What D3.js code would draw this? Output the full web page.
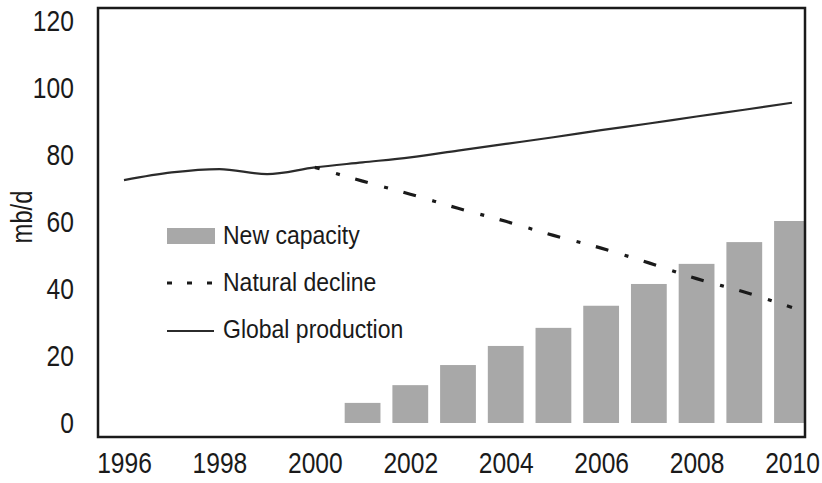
<!DOCTYPE html>
<html>
<head>
<meta charset="utf-8">
<script src="https://cdn.jsdelivr.net/npm/d3@7"></script>
<style>
  html, body { margin: 0; padding: 0; background: #fff; }
  svg { display: block; }
  text { font-family: "Liberation Sans", Arial, sans-serif; fill: #1a1a1a; }
</style>
</head>
<body>
<svg id="chart" width="822" height="483"></svg>
<script>
// ---- data ----
const years = [1996, 1997, 1998, 1999, 2000, 2001, 2002, 2003, 2004, 2005, 2006, 2007, 2008, 2009, 2010];
const globalProduction = [72.5, 74.8, 75.8, 74.3, 76.3, 77.8, 79.3, 81.3, 83.3, 85.3, 87.4, 89.4, 91.5, 93.5, 95.6];
const declineYears = [2000, 2001, 2002, 2003, 2004, 2005, 2006, 2007, 2008, 2009, 2010];
const naturalDecline = [76.3, 72.2, 68.3, 64.1, 60.2, 56.0, 52.2, 47.8, 43.1, 39.1, 34.5];
const capacityYears = [2001, 2002, 2003, 2004, 2005, 2006, 2007, 2008, 2009, 2010];
const newCapacity = [6.0, 11.3, 17.3, 23.0, 28.4, 35.0, 41.5, 47.5, 54.0, 60.3];
const yTicks = [0, 20, 40, 60, 80, 100, 120];
const xTicks = [1996, 1998, 2000, 2002, 2004, 2006, 2008, 2010];
const legendLabels = ["New capacity", "Natural decline", "Global production"];

// ---- layout ----
const W = 822, H = 483;
const frame = { left: 98, right: 805, top: 8, bottom: 437 };
const narrow = "scale(0.82,1)";
const svg = d3.select("#chart");

const x = d3.scaleLinear().domain([1996, 2010]).range([124, 792]);
const y = d3.scaleLinear().domain([0, 120]).range([423, 21]);
const step = x(1997) - x(1996);
const barW = step * 0.75;

svg.append("rect").attr("width", W).attr("height", H).attr("fill", "#ffffff");

const defs = svg.append("defs");
defs.append("clipPath").attr("id", "plotclip")
  .append("rect")
  .attr("x", frame.left).attr("y", frame.top)
  .attr("width", frame.right - frame.left - 1).attr("height", frame.bottom - frame.top);

const plot = svg.append("g").attr("clip-path", "url(#plotclip)");

// bars
plot.selectAll("rect.bar")
  .data(capacityYears.map((yr, i) => ({ yr, v: newCapacity[i] })))
  .join("rect")
  .attr("class", "bar")
  .attr("x", d => x(d.yr) - barW / 2)
  .attr("width", barW)
  .attr("y", d => y(d.v))
  .attr("height", d => y(0) - y(d.v))
  .attr("fill", "#a8a8a8");

// global production
const lineGen = d3.line().x(d => x(d.yr)).y(d => y(d.v)).curve(d3.curveMonotoneX);
plot.append("path")
  .datum(years.map((yr, i) => ({ yr, v: globalProduction[i] })))
  .attr("d", lineGen)
  .attr("fill", "none")
  .attr("stroke", "#2b2b2b")
  .attr("stroke-width", 2.2);

// natural decline
plot.append("path")
  .datum(declineYears.map((yr, i) => ({ yr, v: naturalDecline[i] })))
  .attr("d", lineGen)
  .attr("fill", "none")
  .attr("stroke", "#1a1a1a")
  .attr("stroke-width", 3.2)
  .attr("stroke-dasharray", "4,16,13,17")
  .attr("stroke-dashoffset", 28);

// frame
svg.append("rect")
  .attr("x", frame.left).attr("y", frame.top)
  .attr("width", frame.right - frame.left).attr("height", frame.bottom - frame.top)
  .attr("fill", "none").attr("stroke", "#1a1a1a").attr("stroke-width", 2.5);

// y axis
const yAxis = svg.append("g")
  .attr("transform", "translate(78,0)")
  .call(d3.axisLeft(y).tickValues(yTicks).tickSize(0).tickPadding(5));
yAxis.select(".domain").remove();
yAxis.selectAll("text").attr("font-size", 30).attr("font-family", null)
  .attr("fill", "#1a1a1a").attr("transform", narrow);

// x axis
const xAxis = svg.append("g")
  .attr("transform", "translate(0,448)")
  .call(d3.axisBottom(x).tickValues(xTicks).tickFormat(d3.format("d")).tickSize(0).tickPadding(4));
xAxis.select(".domain").remove();
xAxis.selectAll("text").attr("font-size", 30).attr("font-family", null)
  .attr("fill", "#1a1a1a").attr("transform", narrow);

// y title
svg.append("text")
  .attr("transform", "translate(32,217) rotate(-90) " + narrow)
  .attr("text-anchor", "middle")
  .attr("font-size", 29)
  .text("mb/d");

// legend
const lg = svg.append("g");
lg.append("rect").attr("x", 167).attr("y", 228).attr("width", 48).attr("height", 16).attr("fill", "#a8a8a8");
lg.append("line").attr("x1", 167).attr("x2", 214).attr("y1", 283).attr("y2", 283)
  .attr("stroke", "#1a1a1a").attr("stroke-width", 3).attr("stroke-dasharray", "5,15");
lg.append("line").attr("x1", 167).attr("x2", 214).attr("y1", 331).attr("y2", 331)
  .attr("stroke", "#2b2b2b").attr("stroke-width", 2);
lg.selectAll("text.lbl").data(legendLabels).join("text")
  .attr("class", "lbl")
  .attr("transform", (d, i) => `translate(223,${244 + i * 47}) scale(0.92,1)`)
  .attr("font-size", 25)
  .text(d => d);
</script>
</body>
</html>
